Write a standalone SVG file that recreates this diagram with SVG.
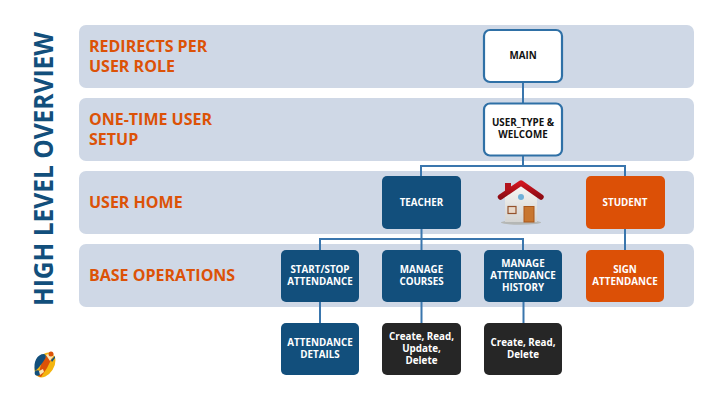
<svg xmlns="http://www.w3.org/2000/svg" width="720" height="405" viewBox="0 0 720 405">
<style>
text{font-family:"Open Sans","Noto Sans","DejaVu Sans",sans-serif;font-weight:700;text-anchor:middle}
.band{fill:#cfd8e6}
.bl{fill:#dc5207;font-size:16px;text-anchor:start}
.box{stroke:none}
.blue{fill:#124f7c}.org{fill:#dc5006}.blk{fill:#262626}
.wht{fill:#fff;stroke:#2f70a6;stroke-width:2.2}
.t{fill:#fff;font-size:9.800px}
.k{fill:#111;font-size:9.800px}
.c{fill:none;stroke:#3a76ad;stroke-width:2}
</style>
<defs>
<linearGradient id="wall" x1="0" y1="0" x2="0" y2="1"><stop offset="0" stop-color="#f7f7f5"/><stop offset="1" stop-color="#d4d4d2"/></linearGradient>
<linearGradient id="roof" x1="0" y1="0" x2="0" y2="1"><stop offset="0" stop-color="#d0151f"/><stop offset="1" stop-color="#8e0c14"/></linearGradient>
</defs>
<rect width="720" height="405" fill="#fff"/>
<g id="bands">
<rect class="band" x="79" y="25" width="615" height="63" rx="7"/>
<rect class="band" x="79" y="98" width="615" height="63" rx="7"/>
<rect class="band" x="79" y="171" width="615" height="63" rx="7"/>
<rect class="band" x="79" y="244" width="615" height="63" rx="7"/>
<text class="bl" y="52"><tspan x="89">REDIRECTS PER</tspan><tspan x="89" dy="19.500">USER ROLE</tspan></text>
<text class="bl" y="125"><tspan x="89">ONE-TIME USER</tspan><tspan x="89" dy="19.500">SETUP</tspan></text>
<text class="bl" x="89" y="208">USER HOME</text>
<text class="bl" x="89" y="281">BASE OPERATIONS</text>
</g>
<text id="title" transform="translate(53 169) rotate(-90)" fill="#124f7c" style="font-size:26.500px" textLength="274" lengthAdjust="spacingAndGlyphs">HIGH LEVEL OVERVIEW</text>
<g id="connectors">
<path class="c" d="M523 82V103M523 156V166M421 176V166H625V176M421.500 229V250M320 250V239H523V250M320 302V323M421.500 302V323M523.500 302V323M625 229V250"/>
</g>
<g id="main"><rect class="wht" x="484" y="30" width="78" height="52" rx="6"/><text class="k" x="523" y="59">MAIN</text></g>
<g id="user-type"><rect class="wht" x="484" y="103.500" width="78" height="52" rx="6"/><text class="k" y="125.500"><tspan x="523">USER_TYPE &amp;</tspan><tspan x="523" dy="12">WELCOME</tspan></text></g>
<g id="teacher"><rect class="box blue" x="382" y="176" width="79" height="53" rx="5"/><text class="t" x="421.500" y="205.500">TEACHER</text></g>
<g id="student"><rect class="box org" x="586" y="176" width="79" height="53" rx="5"/><text class="t" x="625" y="205.500">STUDENT</text></g>
<g id="house">
<ellipse cx="521" cy="222.500" rx="20" ry="2.200" fill="#b5b7b5"/>
<path d="M505 196L521 184L537 196V222H505Z" fill="url(#wall)"/>
<rect x="505" y="183" width="6" height="9" fill="#b3141d"/>
<path d="M500.500 197L521 183L541 197" fill="none" stroke="url(#roof)" stroke-width="5.500" stroke-linecap="round" stroke-linejoin="round"/>
<circle cx="521" cy="197" r="3" fill="#6fb0d8"/>
<rect x="508" y="206.500" width="8" height="7" fill="#e8d8c8" stroke="#94522b" stroke-width="1.200"/>
<rect x="524" y="206.500" width="10" height="15.500" fill="#c8762f" stroke="#a9571b" stroke-width="1"/>
</g>
<g id="start-stop"><rect class="box blue" x="281" y="250" width="78" height="52" rx="5"/><text class="t" y="273"><tspan x="320">START/STOP</tspan><tspan x="320" dy="12">ATTENDANCE</tspan></text></g>
<g id="manage-courses"><rect class="box blue" x="382" y="250" width="79" height="52" rx="5"/><text class="t" y="273"><tspan x="421.500">MANAGE</tspan><tspan x="421.500" dy="12">COURSES</tspan></text></g>
<g id="manage-history"><rect class="box blue" x="484" y="250" width="78" height="52" rx="5"/><text class="t" y="267"><tspan x="523">MANAGE</tspan><tspan x="523" dy="12">ATTENDANCE</tspan><tspan x="523" dy="12">HISTORY</tspan></text></g>
<g id="sign"><rect class="box org" x="586" y="250" width="78" height="52" rx="5"/><text class="t" y="273"><tspan x="625">SIGN</tspan><tspan x="625" dy="12">ATTENDANCE</tspan></text></g>
<g id="details"><rect class="box blue" x="281" y="323" width="78" height="52" rx="5"/><text class="t" y="346"><tspan x="320">ATTENDANCE</tspan><tspan x="320" dy="12">DETAILS</tspan></text></g>
<g id="crud"><rect class="box blk" x="382" y="323" width="79" height="52" rx="5"/><text class="t" y="340"><tspan x="421.500">Create, Read,</tspan><tspan x="421.500" dy="12">Update,</tspan><tspan x="421.500" dy="12">Delete</tspan></text></g>
<g id="crd"><rect class="box blk" x="484" y="323" width="78" height="52" rx="5"/><text class="t" y="346"><tspan x="523">Create, Read,</tspan><tspan x="523" dy="12">Delete</tspan></text></g>
<g id="logo">
<ellipse cx="45" cy="365" rx="9" ry="13.500" transform="rotate(32 45 365)" fill="#f4b50f"/>
<path d="M38 376L42 361L48 354L52 358L47 368L41 377Z" fill="#dc5207"/>
<path d="M35 371C33 362 37 354 44 354C47 355 46 358 43 362C40 366 38 369 35 371Z" fill="#124f7c"/>
<circle cx="37.500" cy="373" r="2.800" fill="#124f7c"/>
<path d="M46 355L50 353L54 355L50 361Z" fill="#f8e6b8"/>
<path d="M51 360L55 356L55 358L52 362Z" fill="#124f7c"/>
<path d="M39 371L43 369L44 372L40 375Z" fill="#f8e6b8"/>
<circle cx="51" cy="354" r="2.500" fill="#dc5207"/>
</g>
</svg>
